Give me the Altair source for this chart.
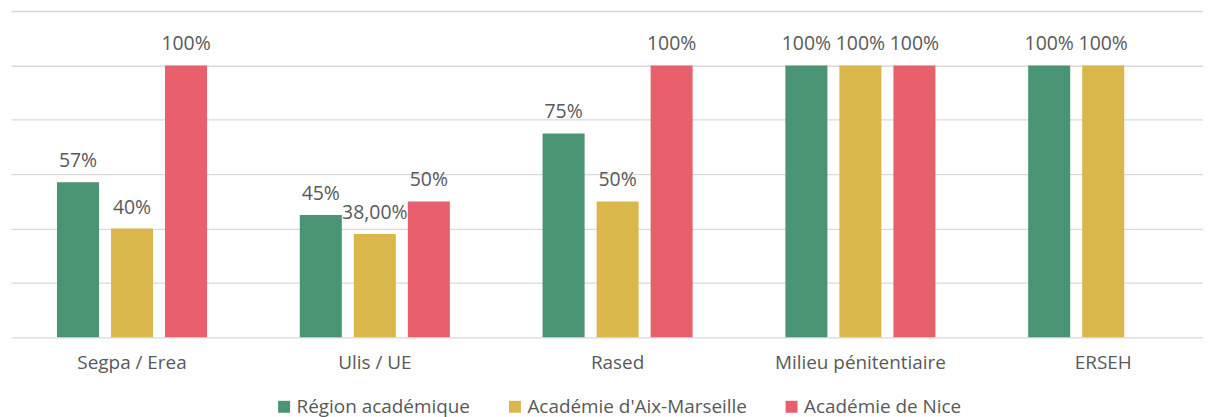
import altair as alt
import pandas as pd

categories = ["Segpa / Erea", "Ulis / UE", "Rased", "Milieu pénitentiaire", "ERSEH"]
series = ["Région académique", "Académie d'Aix-Marseille", "Académie de Nice"]
colors = ["#4A9373", "#D9B74A", "#E8606B"]

region = [57, 45, 75, 100, 100]
aix = [40, 38, 50, 100, 100]
nice = [100, 50, 100, 100, None]

region_labels = ["57%", "45%", "75%", "100%", "100%"]
aix_labels = ["40%", "38,00%", "50%", "100%", "100%"]
nice_labels = ["100%", "50%", "100%", "100%", None]

rows = []
for s, vals, labs in [(series[0], region, region_labels),
                      (series[1], aix, aix_labels),
                      (series[2], nice, nice_labels)]:
    for c, v, l in zip(categories, vals, labs):
        if v is not None:
            rows.append({"cat": c, "serie": s, "value": v, "label": l})
df = pd.DataFrame(rows)

FONT = "Open Sans"
GRAY = "#595959"

x = alt.X("cat:N", sort=categories, title=None,
          scale=alt.Scale(paddingInner=0.382, paddingOuter=0.1458, align=0.65),
          axis=alt.Axis(labelAngle=0, domain=False, ticks=False, labelPadding=16,
                        labelFont=FONT, labelFontSize=19, labelColor=GRAY, grid=False))
xo = alt.XOffset("serie:N", sort=series,
                 scale=alt.Scale(domain=series, paddingInner=0.222, paddingOuter=0))
y = alt.Y("value:Q", title=None,
          scale=alt.Scale(domain=[0, 120], nice=False),
          axis=alt.Axis(values=[0, 20, 40, 60, 80, 100, 120], labels=False, ticks=False,
                        domain=False, grid=True, gridColor="#D9D9D9", gridWidth=1.3))

bars = alt.Chart(df).mark_bar().encode(
    x=x, xOffset=xo, y=y,
    color=alt.Color("serie:N", sort=series,
                    scale=alt.Scale(domain=series, range=colors),
                    legend=alt.Legend(title=None, orient="none", direction="horizontal",
                                      legendX=265, legendY=388, padding=0,
                                      symbolType="square", symbolSize=144,
                                      symbolStrokeWidth=0, labelFont=FONT,
                                      labelFontSize=19, labelColor=GRAY, labelLimit=0,
                                      labelOffset=3, columnPadding=35)),
)

text = alt.Chart(df).mark_text(font=FONT, fontSize=19.5, color=GRAY, dy=-15,
                               baseline="alphabetic", align="center").encode(
    x=x, xOffset=xo, y=y, text="label:N"
)

chart = alt.layer(bars, text).properties(
    width=1198, height=328,
    autosize=alt.AutoSizeParams(type="none"),
    padding={"left": 3, "top": 2, "right": 0, "bottom": 79},
).configure_view(stroke=None)

chart.save("out.html", embed_options={"renderer": "svg", "actions": False})
